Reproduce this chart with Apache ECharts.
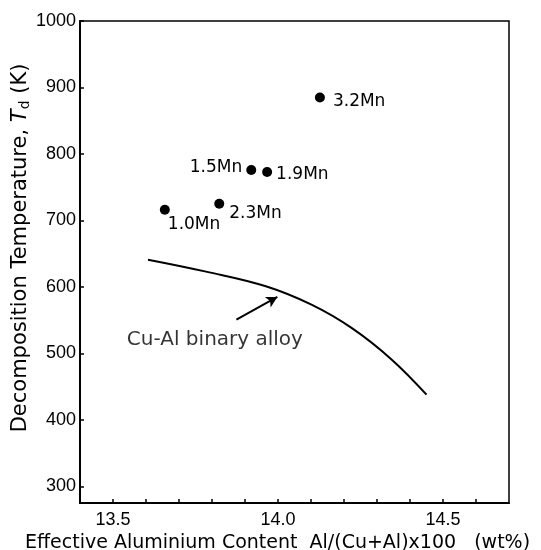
<!DOCTYPE html>
<html>
<head>
<meta charset="utf-8">
<script src="https://cdn.jsdelivr.net/npm/echarts@6/dist/echarts.min.js"></script>
<style>html,body{margin:0;padding:0;background:#fff}#c{width:541px;height:550px}</style>
</head>
<body>
<div id="c"></div>
<script>
// Measured points (Mn-containing alloys)
var pointLabels = ['1.0Mn', '2.3Mn', '1.5Mn', '1.9Mn', '3.2Mn'];
var pointX = [13.657, 13.822, 13.919, 13.967, 14.127];
var pointY = [716, 725, 776, 773, 885];

// Cu-Al binary alloy curve
var curveX = [13.606, 13.782, 13.963, 14.103, 14.224, 14.344, 14.45];
var curveY = [641, 623, 601, 573, 538, 491, 438];

// Axis ticks
var xTickLabels = [13.5, 14.0, 14.5];
var xTickValues = [13.5, 13.6, 13.7, 13.8, 13.9, 14.0, 14.1, 14.2, 14.3, 14.4, 14.5, 14.6];
var yTickValues = [300, 400, 500, 600, 700, 800, 900, 1000];

// Annotation
var annoText = 'Cu-Al binary alloy';
var annoPos = [13.542, 521];
var arrowFrom = [13.874, 551];
var arrowTo = [13.998, 585];

var labelStyles = [
  {align: 'left', offset: [3, 15]},
  {align: 'left', offset: [10, 10]},
  {align: 'right', offset: [-9, -2]},
  {align: 'left', offset: [9, 3]},
  {align: 'left', offset: [13, 4]}
];

var scatterData = pointX.map(function (x, i) {
  return {
    value: [x, pointY[i]],
    label: {
      show: true,
      position: 'inside',
      formatter: pointLabels[i],
      align: labelStyles[i].align,
      verticalAlign: 'middle',
      offset: labelStyles[i].offset,
      color: '#000',
      fontSize: 17,
      fontFamily: 'DejaVu Sans'
    }
  };
});

var curveData = curveX.map(function (x, i) { return [x, curveY[i]]; });

var chart = echarts.init(document.getElementById('c'), null, {renderer: 'canvas'});
chart.setOption({
  animation: false,
  backgroundColor: '#fff',
  grid: {left: 80, right: 32, top: 21, bottom: 47, show: true, borderColor: '#000', borderWidth: 1.5,
    containLabel: false, outerBoundsMode: 'none'},
  xAxis: {
    type: 'value', min: 13.4, max: 14.7,
    name: 'Effective Aluminium Content  Al/(Cu+Al)x100   (wt%)',
    nameLocation: 'middle', nameGap: 31, nameMoveOverlap: false,
    nameTextStyle: {color: '#000', fontSize: 19, fontFamily: 'DejaVu Sans', padding: [0, 34, 0, 0]},
    axisLine: {show: true, onZero: false, lineStyle: {color: '#000', width: 2}},
    axisTick: {show: true, inside: true, length: 4, customValues: xTickValues, lineStyle: {color: '#000', width: 1.5}},
    axisLabel: {show: true, customValues: xTickLabels, margin: 8, color: '#000', fontSize: 18, fontFamily: 'Liberation Sans',
      formatter: function (v) { return v.toFixed(1); }},
    splitLine: {show: false}
  },
  yAxis: {
    type: 'value', min: 275, max: 1000,
    name: '{a|Decomposition Temperature, }{i|T}{s|d}{a| (K)}',
    nameLocation: 'middle', nameGap: 48, nameMoveOverlap: false,
    nameTextStyle: {
      color: '#000', fontSize: 21, fontFamily: 'DejaVu Sans', padding: [0, 0, 0, 28],
      rich: {
        a: {fontSize: 21, fontFamily: 'DejaVu Sans', color: '#000'},
        i: {fontSize: 21, fontFamily: 'DejaVu Sans', fontStyle: 'italic', color: '#000'},
        s: {fontSize: 14, fontFamily: 'DejaVu Sans', color: '#000', verticalAlign: 'bottom', padding: [9, 0, 0, 0]}
      }
    },
    axisLine: {show: true, onZero: false, lineStyle: {color: '#000', width: 2}},
    axisTick: {show: true, inside: true, length: 4, customValues: yTickValues, lineStyle: {color: '#000', width: 1.5}},
    axisLabel: {show: true, customValues: yTickValues, margin: 4, color: '#000', fontSize: 18, fontFamily: 'Liberation Sans',
      formatter: function (v) { return String(v); }},
    splitLine: {show: false}
  },
  series: [
    {
      type: 'line', data: curveData, smooth: 0.4, showSymbol: false,
      lineStyle: {color: '#000', width: 2}
    },
    {
      type: 'scatter', data: scatterData, symbol: 'circle', symbolSize: 10,
      itemStyle: {color: '#000', opacity: 1},
      markLine: {
        silent: true, symbol: ['none', 'arrow'], symbolSize: [9, 11],
        lineStyle: {color: '#000', width: 2, type: 'solid', opacity: 1},
        label: {show: false},
        data: [[{coord: arrowFrom}, {coord: arrowTo}]]
      }
    },
    {
      type: 'scatter', data: [annoPos], symbolSize: 0,
      label: {show: true, position: 'inside', align: 'left', verticalAlign: 'middle', formatter: annoText,
        color: '#000', fontSize: 20, fontFamily: 'DejaVu Sans'}
    }
  ]
});
</script>
</body>
</html>
